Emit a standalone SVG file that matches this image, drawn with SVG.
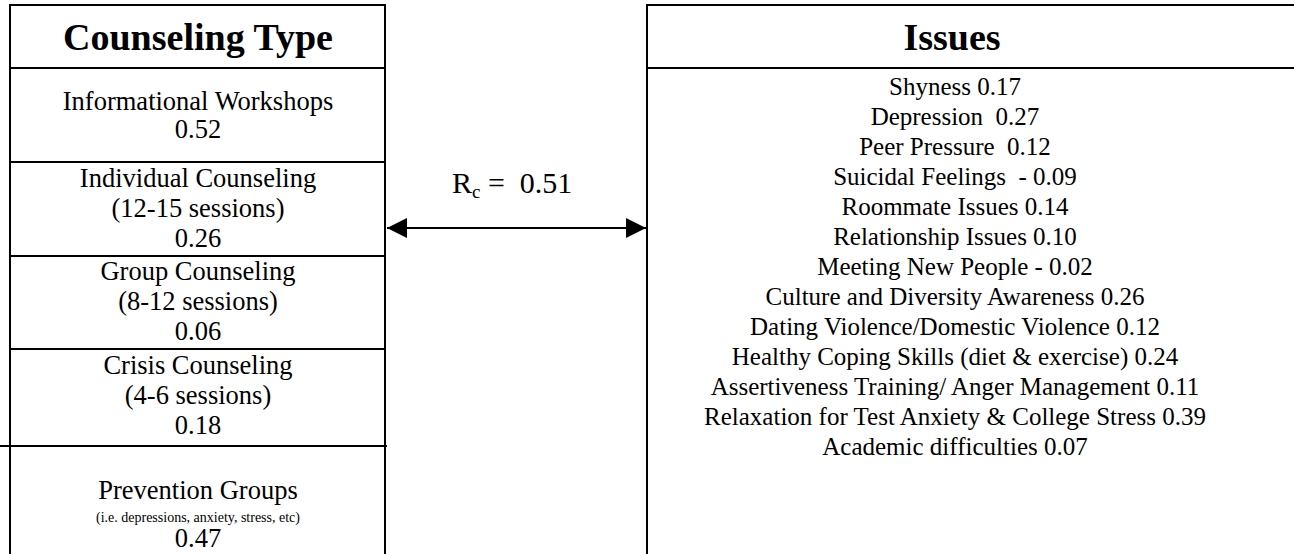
<svg xmlns="http://www.w3.org/2000/svg" width="1294" height="554" viewBox="0 0 1294 554">
<style>
.box{fill:#fff;stroke:#000;stroke-width:2}
.div{stroke:#000;stroke-width:2}
.hd{font-family:"Liberation Serif","Times New Roman",serif;font-weight:bold;font-size:38px;text-anchor:middle;fill:#000}
.t{font-family:"Liberation Serif","Times New Roman",serif;font-size:26.5px;text-anchor:middle;fill:#000}
.s{font-family:"Liberation Serif","Times New Roman",serif;font-size:14px;text-anchor:middle;fill:#000}
.r{font-family:"Liberation Serif","Times New Roman",serif;font-size:25px;text-anchor:middle;fill:#000}
.lbl{font-family:"Liberation Serif","Times New Roman",serif;font-size:30px;fill:#000}
</style>
<defs>
<marker id="ah" markerUnits="userSpaceOnUse" markerWidth="20" markerHeight="20" refX="20" refY="10" orient="auto-start-reverse">
<path d="M0,0 L20,10 L0,20 z" fill="#000"/>
</marker>
</defs>
<rect width="1294" height="554" fill="#fff"/>
<g id="counseling-type">
<rect class="box" x="10" y="5" width="375" height="560"/>
<line class="div" x1="10" y1="68" x2="385" y2="68"/>
<text class="hd" x="198" y="50">Counseling Type</text>
</g>
<g id="informational-workshops">
<line class="div" x1="10" y1="162" x2="385" y2="162"/>
<text class="t" x="198" y="110">Informational Workshops</text>
<text class="t" x="198" y="138">0.52</text>
</g>
<g id="individual-counseling">
<line class="div" x1="10" y1="256" x2="385" y2="256"/>
<text class="t" x="198" y="187">Individual Counseling</text>
<text class="t" x="198" y="217">(12-15 sessions)</text>
<text class="t" x="198" y="247">0.26</text>
</g>
<g id="group-counseling">
<line class="div" x1="10" y1="349" x2="385" y2="349"/>
<text class="t" x="198" y="280">Group Counseling</text>
<text class="t" x="198" y="310">(8-12 sessions)</text>
<text class="t" x="198" y="340">0.06</text>
</g>
<g id="crisis-counseling">
<line class="div" x1="0" y1="446" x2="387" y2="446"/>
<text class="t" x="198" y="374">Crisis Counseling</text>
<text class="t" x="198" y="404">(4-6 sessions)</text>
<text class="t" x="198" y="434">0.18</text>
</g>
<g id="prevention-groups">
<text class="t" x="198" y="499">Prevention Groups</text>
<text class="s" x="198" y="522">(i.e. depressions, anxiety, stress, etc)</text>
<text class="t" x="198" y="547">0.47</text>
</g>
<g id="issues">
<rect class="box" x="647" y="5" width="660" height="560"/>
<line class="div" x1="647" y1="68" x2="1294" y2="68"/>
<text class="hd" x="952" y="50">Issues</text>
<text class="r" x="955" y="95">Shyness 0.17</text>
<text class="r" x="955" y="125" xml:space="preserve">Depression  0.27</text>
<text class="r" x="955" y="155" xml:space="preserve">Peer Pressure  0.12</text>
<text class="r" x="955" y="185" xml:space="preserve">Suicidal Feelings  - 0.09</text>
<text class="r" x="955" y="215">Roommate Issues 0.14</text>
<text class="r" x="955" y="245">Relationship Issues 0.10</text>
<text class="r" x="955" y="275">Meeting New People - 0.02</text>
<text class="r" x="955" y="305">Culture and Diversity Awareness 0.26</text>
<text class="r" x="955" y="335">Dating Violence/Domestic Violence 0.12</text>
<text class="r" x="955" y="365">Healthy Coping Skills (diet &amp; exercise) 0.24</text>
<text class="r" x="955" y="395">Assertiveness Training/ Anger Management 0.11</text>
<text class="r" x="955" y="425">Relaxation for Test Anxiety &amp; College Stress 0.39</text>
<text class="r" x="955" y="455">Academic difficulties 0.07</text>
</g>
<g id="connectors">
<line x1="387" y1="228" x2="646" y2="228" stroke="#000" stroke-width="2" marker-start="url(#ah)" marker-end="url(#ah)"/>
<text class="lbl" x="452" y="193" xml:space="preserve">R<tspan font-size="19" dy="5">c</tspan><tspan dy="-5"> =  0.51</tspan></text>
</g>
</svg>
